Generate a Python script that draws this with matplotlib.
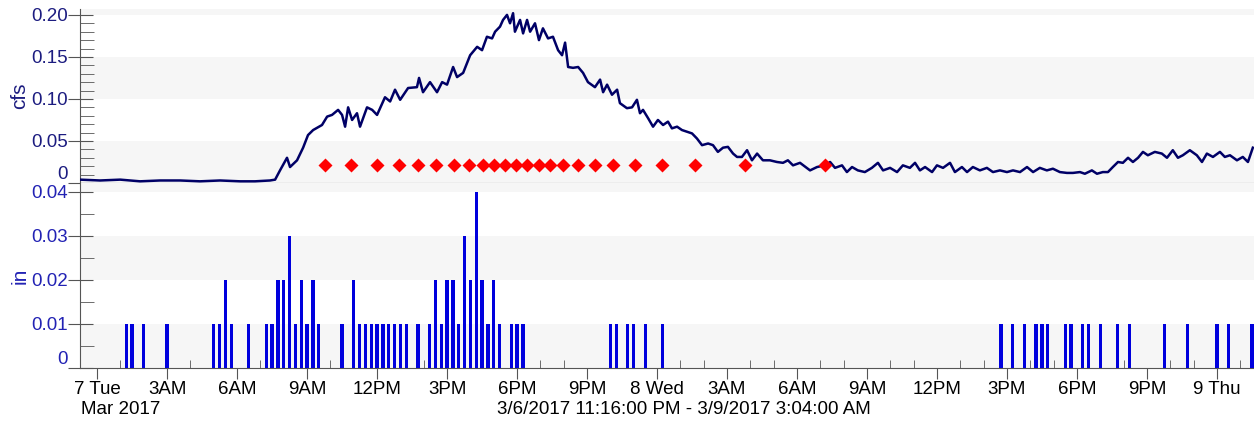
import datetime as dt
import matplotlib
matplotlib.use("Agg")
import matplotlib.pyplot as plt
import matplotlib.dates as mdates
from matplotlib.ticker import MultipleLocator, FuncFormatter

plt.rcParams['font.family'] = ['Liberation Sans', 'DejaVu Sans']

# --- data (time = hours after 3/7/2017 00:00) ---
flow_hours = [-0.73, 0.13, 0.99, 1.84, 2.70, 3.56, 4.41, 5.27, 6.13, 6.77, 7.41, 7.63,
              7.84, 8.14, 8.27, 8.57, 8.83, 9.04, 9.26, 9.64, 9.86, 10.07, 10.33, 10.50,
              10.63, 10.76, 10.93, 11.14, 11.27, 11.57, 11.79, 12.00, 12.34, 12.56, 12.77,
              12.99, 13.33, 13.71, 13.80, 13.97, 14.27, 14.57, 14.79, 15.00, 15.26, 15.43,
              15.69, 15.99, 16.29, 16.50, 16.71, 16.93, 17.06, 17.27, 17.40, 17.57, 17.70,
              17.83, 17.91, 18.13, 18.26, 18.43, 18.56, 18.77, 18.94, 19.11, 19.33, 19.54,
              19.76, 19.93, 20.06, 20.19, 20.40, 20.62, 20.83, 21.04, 21.34, 21.56, 21.69,
              21.86, 22.07, 22.29, 22.41, 22.71, 22.93, 23.14, 23.27, 23.40, 23.62, 23.83,
              24.04, 24.26, 24.47, 24.64, 24.86, 25.07, 25.29, 25.50, 25.71, 25.93, 26.19,
              26.40, 26.61, 26.83, 27.04, 27.26, 27.43, 27.64, 27.86, 28.07, 28.29, 28.54,
              28.84, 29.14, 29.40, 29.61, 29.83, 30.13, 30.56, 30.86, 31.20, 31.42, 31.63,
              31.93, 32.14, 32.36, 32.61, 32.91, 33.21, 33.47, 33.69, 33.99, 34.29, 34.54,
              34.84, 35.06, 35.27, 35.49, 35.79, 36.00, 36.26, 36.56, 36.77, 37.07, 37.29,
              37.54, 37.84, 38.14, 38.40, 38.70, 39.00, 39.26, 39.56, 39.86, 40.12, 40.41,
              40.71, 40.97, 41.27, 41.57, 41.83, 42.13, 42.34, 42.64, 42.86, 43.11, 43.33,
              43.54, 43.76, 43.97, 44.19, 44.40, 44.62, 44.83, 45.04, 45.34, 45.64, 45.86,
              46.11, 46.33, 46.54, 46.84, 47.14, 47.36, 47.57, 47.83, 48.13, 48.34, 48.56,
              48.86, 49.11, 49.33, 49.54]
flow_cfs = [0.004, 0.003, 0.004, 0.002, 0.003, 0.003, 0.002, 0.003, 0.002, 0.002, 0.003, 0.004,
            0.015, 0.030, 0.019, 0.027, 0.042, 0.057, 0.063, 0.069, 0.079, 0.081, 0.087, 0.081,
            0.067, 0.090, 0.075, 0.083, 0.067, 0.090, 0.087, 0.081, 0.102, 0.097, 0.111,
            0.099, 0.113, 0.114, 0.125, 0.108, 0.120, 0.108, 0.120, 0.117, 0.138, 0.126,
            0.131, 0.152, 0.162, 0.158, 0.174, 0.172, 0.180, 0.186, 0.194, 0.200, 0.190,
            0.202, 0.180, 0.194, 0.178, 0.194, 0.180, 0.190, 0.170, 0.184, 0.172, 0.174,
            0.158, 0.152, 0.167, 0.138, 0.137, 0.138, 0.131, 0.120, 0.114, 0.123, 0.108,
            0.117, 0.105, 0.111, 0.095, 0.089, 0.090, 0.099, 0.083, 0.087, 0.077, 0.067,
            0.075, 0.069, 0.073, 0.065, 0.067, 0.063, 0.061, 0.059, 0.053, 0.045, 0.047,
            0.045, 0.037, 0.042, 0.043, 0.035, 0.031, 0.031, 0.039, 0.027, 0.035, 0.027,
            0.027, 0.025, 0.024, 0.027, 0.021, 0.024, 0.015, 0.019, 0.021, 0.025, 0.018,
            0.021, 0.013, 0.019, 0.015, 0.013, 0.018, 0.024, 0.015, 0.018, 0.013, 0.021,
            0.018, 0.024, 0.015, 0.019, 0.013, 0.021, 0.018, 0.024, 0.013, 0.019, 0.013,
            0.019, 0.015, 0.018, 0.013, 0.015, 0.013, 0.015, 0.013, 0.019, 0.013, 0.018,
            0.015, 0.017, 0.013, 0.012, 0.012, 0.013, 0.011, 0.015, 0.011, 0.013, 0.013,
            0.019, 0.025, 0.024, 0.030, 0.025, 0.030, 0.037, 0.033, 0.037, 0.035, 0.030,
            0.039, 0.030, 0.033, 0.039, 0.033, 0.025, 0.035, 0.031, 0.037, 0.031, 0.033,
            0.027, 0.031, 0.025, 0.042]

sample_hours = [9.77, 10.89, 12.00, 12.94, 13.76, 14.53, 15.30, 15.94, 16.54, 17.01, 17.49,
                17.96, 18.43, 18.94, 19.41, 19.97, 20.61, 21.34, 22.11, 23.06, 24.21, 25.63,
                27.77, 31.20]
sample_cfs = [0.021] * len(sample_hours)

rain_hours = [1.25, 1.5, 2.0, 3.0, 5.0, 5.25, 5.5, 5.75, 6.5, 7.25, 7.5, 7.75, 8.0, 8.25,
              8.5, 8.75, 9.0, 9.25, 9.5, 10.5, 11.0, 11.25, 11.5, 11.75, 12.0, 12.25, 12.5,
              12.75, 13.0, 13.25, 13.75, 14.25, 14.5, 14.75, 15.0, 15.25, 15.5, 15.75, 16.0,
              16.25, 16.5, 16.75, 17.0, 17.25, 17.75, 18.0, 18.25, 22.0, 22.25, 22.75, 23.0,
              23.5, 24.25, 38.75, 39.25, 39.75, 40.25, 40.5, 40.75, 41.5, 41.75, 42.25, 42.5,
              43.0, 43.75, 44.25, 45.75, 46.75, 48.0, 48.5, 49.5]
rain_in = [0.01, 0.01, 0.01, 0.01, 0.01, 0.01, 0.02, 0.01, 0.01, 0.01, 0.01, 0.02, 0.02, 0.03,
           0.01, 0.02, 0.01, 0.02, 0.01, 0.01, 0.02, 0.01, 0.01, 0.01, 0.01, 0.01, 0.01,
           0.01, 0.01, 0.01, 0.01, 0.01, 0.02, 0.01, 0.02, 0.02, 0.01, 0.03, 0.02,
           0.04, 0.02, 0.01, 0.02, 0.01, 0.01, 0.01, 0.01, 0.01, 0.01, 0.01, 0.01,
           0.01, 0.01, 0.01, 0.01, 0.01, 0.01, 0.01, 0.01, 0.01, 0.01, 0.01, 0.01,
           0.01, 0.01, 0.01, 0.01, 0.01, 0.01, 0.01, 0.01]

t0 = dt.datetime(2017, 3, 7)
start = dt.datetime(2017, 3, 6, 23, 16)
view_end = t0 + dt.timedelta(hours=49.59)  # screenshot is cut off before 3:04 AM


def to_time(hours):
    return [t0 + dt.timedelta(hours=h) for h in hours]


navy = '#000066'
label_top = '#1c1c80'
label_bot = '#2222b4'
band = '#f6f6f6'
fs = 13.5

W, H = 1254, 423
fig = plt.figure(figsize=(W / 100, H / 100), dpi=100)
x0 = 80
ax1 = fig.add_axes([x0 / W, (H - 183) / H, (W - x0) / W, (183 - 9) / H])
ax2 = fig.add_axes([x0 / W, (H - 368) / H, (W - x0) / W, (368 - 183) / H])

# top panel: flow
for lo, hi in [(0, 0.05), (0.10, 0.15), (0.20, 0.25)]:
    ax1.axhspan(lo, hi, color=band, zorder=0, lw=0)
ax1.plot(to_time(flow_hours), flow_cfs, color=navy, lw=1.8, zorder=3)
ax1.plot(to_time(sample_hours), sample_cfs, 'D', color='#ff0000', ms=7.5, mec='none', zorder=4)
ax1.set_ylim(0, 0.207)
ax1.set_xlim(start, view_end)
ax1.yaxis.set_major_locator(MultipleLocator(0.05))
ax1.yaxis.set_minor_locator(MultipleLocator(0.01))
ax1.yaxis.set_major_formatter(FuncFormatter(lambda v, p: '0' if abs(v) < 1e-9 else f'{v:.2f}'))
ax1.set_ylabel('cfs', color=label_top, fontsize=15, labelpad=1)
ax1.tick_params(axis='x', which='both', length=0, labelbottom=False)

# bottom panel: rain
for lo, hi in [(0, 0.01), (0.02, 0.03), (0.04, 0.05)]:
    ax2.axhspan(lo, hi, color=band, zorder=0, lw=0)
ax2.bar(to_time(rain_hours), rain_in, width=8.5 / 1440, color='#0000dd', zorder=3)
ax2.set_ylim(0, 0.042)
ax2.set_xlim(start, view_end)
ax2.yaxis.set_major_locator(MultipleLocator(0.01))
ax2.yaxis.set_minor_locator(MultipleLocator(0.005))
ax2.yaxis.set_major_formatter(FuncFormatter(lambda v, p: '0' if abs(v) < 1e-9 else f'{v:.2f}'))
ax2.set_ylabel('in', color=label_bot, fontsize=15, labelpad=1)


def fmt_time(v, pos):
    d = mdates.num2date(v)
    if d.hour == 0:
        return f"{d.day} {d.strftime('%a')}"
    h = d.hour % 12 or 12
    return f"{h}{'AM' if d.hour < 12 else 'PM'}"


ax2.xaxis.set_major_locator(mdates.HourLocator(byhour=range(0, 24, 3)))
ax2.xaxis.set_minor_locator(mdates.HourLocator())
ax2.xaxis.set_major_formatter(FuncFormatter(fmt_time))
ax2.tick_params(axis='x', which='major', direction='out', length=8, color='#555555',
                labelsize=fs, pad=1)
ax2.tick_params(axis='x', which='minor', direction='in', length=6, color='#555555')

for ax, col in [(ax1, label_top), (ax2, label_bot)]:
    for s in ['top', 'right']:
        ax.spines[s].set_visible(False)
    ax.spines['left'].set_color('#555555')
    ax.spines['bottom'].set_color('#555555')
    ax.tick_params(axis='y', which='major', direction='inout', length=18, color='#555555',
                   labelsize=fs, labelcolor=col, pad=0)
    ax.tick_params(axis='y', which='minor', direction='in', length=10, color='#555555')
    ax.set_facecolor('white')

# zero labels sit just above their tick, inside the panel
fig.canvas.draw()
for ax in (ax1, ax2):
    for t, lab in zip(ax.yaxis.get_majorticklocs(), ax.get_yticklabels()):
        if abs(t) < 1e-9:
            lab.set_verticalalignment('bottom')

fig.text(81 / W, (H - 409) / H, 'Mar 2017', fontsize=fs, ha='left', va='center')
fig.text(684 / W, (H - 409) / H, '3/6/2017 11:16:00 PM - 3/9/2017 3:04:00 AM',
         fontsize=fs, ha='center', va='center')

fig.savefig('out.png', dpi=100)
